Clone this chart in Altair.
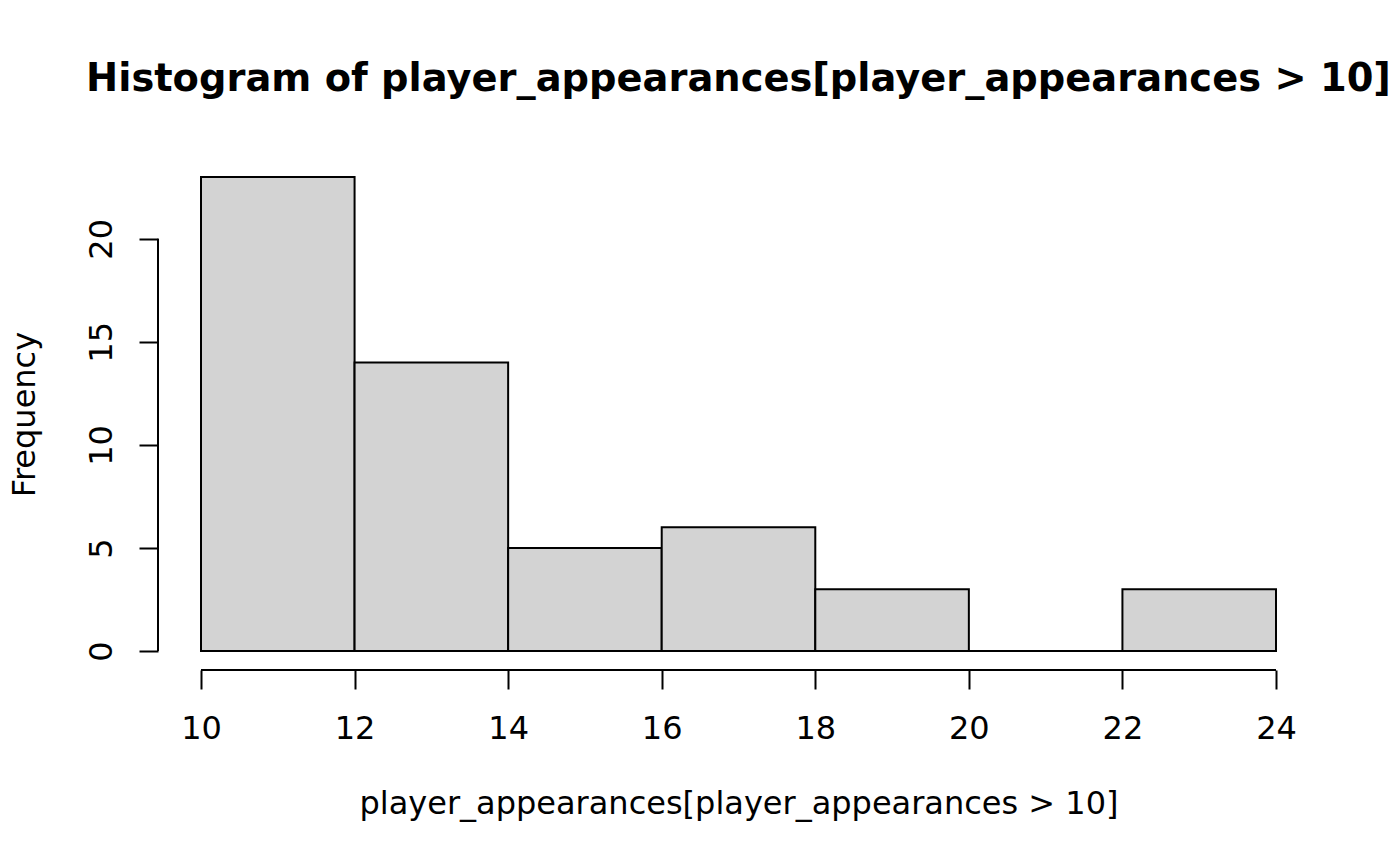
import altair as alt
import pandas as pd

# Histogram data
bin_edges = [10, 12, 14, 16, 18, 20, 22, 24]
counts = [23, 14, 5, 6, 3, 0, 3]
x_ticks = [10, 12, 14, 16, 18, 20, 22, 24]
y_ticks = [0, 5, 10, 15, 20]

title_text = "Histogram of player_appearances[player_appearances > 10]"
x_title = "player_appearances[player_appearances > 10]"
y_title = "Frequency"

df = pd.DataFrame({"start": bin_edges[:-1], "end": bin_edges[1:], "count": counts})

W, H = 1161, 512
FONT = "DejaVu Sans"
LW = 2
FS = 32

# R-style 4% axis extension
xr = max(bin_edges) - min(bin_edges)
x_dom = [min(bin_edges) - 0.04 * xr, max(bin_edges) + 0.04 * xr]
yr = max(counts) - 0
y_dom = [0 - 0.04 * yr, max(counts) + 0.04 * yr]

xs = alt.Scale(domain=x_dom, nice=False, zero=False)
ys = alt.Scale(domain=y_dom, nice=False, zero=False)

x_axis = alt.Axis(
    values=x_ticks, format="d", domain=False, grid=False,
    tickSize=19, tickWidth=LW, tickColor="black",
    labelFont=FONT, labelFontSize=FS, labelColor="black",
    labelBaseline="alphabetic", labelPadding=49, labelFlush=False, labelOverlap=False,
    title=x_title, titleFont=FONT, titleFontSize=FS, titleFontWeight="normal",
    titleColor="black", titleY=143, titleBaseline="alphabetic",
)
y_axis = alt.Axis(
    values=y_ticks, format="d", domain=False, grid=False,
    tickSize=19, tickWidth=LW, tickColor="black",
    labelFont=FONT, labelFontSize=FS, labelColor="black",
    labelAngle=270, labelAlign="center", labelBaseline="alphabetic",
    labelPadding=28, labelFlush=False, labelOverlap=False,
    title=y_title, titleFont=FONT, titleFontSize=FS, titleFontWeight="normal",
    titleColor="black", titleAngle=270, titleX=-124, titleY=H / 2,
    titleAlign="center", titleBaseline="alphabetic",
)

bars = alt.Chart(df).mark_rect(fill="#D3D3D3", stroke="black", strokeWidth=LW).encode(
    x=alt.X("start:Q", scale=xs, axis=x_axis),
    x2="end:Q",
    y=alt.Y("count:Q", scale=ys, axis=y_axis),
    y2=alt.datum(0),
)

xline_df = pd.DataFrame({"a": [min(x_ticks)], "b": [max(x_ticks)]})
xline = alt.Chart(xline_df).mark_rule(color="black", strokeWidth=LW).encode(
    x=alt.X("a:Q", scale=xs, axis=x_axis),
    x2="b:Q",
    y=alt.value(H),
)
yline_df = pd.DataFrame({"a": [min(y_ticks)], "b": [max(y_ticks)]})
yline = alt.Chart(yline_df).mark_rule(color="black", strokeWidth=LW).encode(
    y=alt.Y("a:Q", scale=ys, axis=y_axis),
    y2="b:Q",
    x=alt.value(0),
)

chart = alt.layer(bars, xline, yline).properties(
    width=W, height=H,
    background="white",
    autosize=alt.AutoSizeParams(type="none"),
    padding={"left": 150, "top": 150, "right": 73, "bottom": 180},
    title=alt.TitleParams(
        text=title_text, font=FONT, fontSize=38.4, fontWeight="bold",
        color="black", anchor="middle", frame="group",
        baseline="alphabetic", offset=29,
    ),
).configure_view(strokeWidth=0, stroke="transparent")

chart.save("out.html", embed_options={"renderer": "svg", "actions": False})
